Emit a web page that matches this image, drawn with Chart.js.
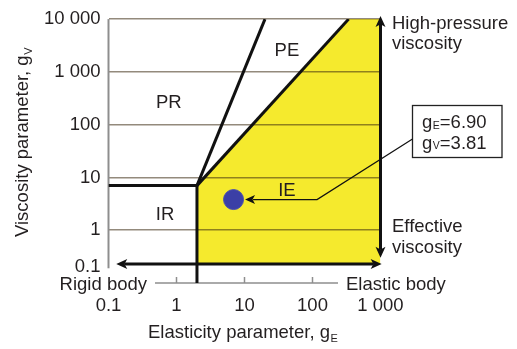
<!DOCTYPE html>
<html>
<head>
<meta charset="utf-8">
<script src="https://cdn.jsdelivr.net/npm/chart.js@4.4.1/dist/chart.umd.min.js"></script>
<style>
  html, body { margin: 0; padding: 0; background: #ffffff; }
  #wrap { width: 517px; height: 349px; }
</style>
</head>
<body>
<div id="wrap"><canvas id="chart" width="517" height="349"></canvas></div>
<script>
// ---- Axes (log–log) ----
const xTickValues = [0.1, 1, 10, 100, 1000];
const xTickLabels = ['0.1', '1', '10', '100', '1 000'];
const yTickValues = [1, 10, 100, 1000, 10000];
const yTickLabels = ['1', '10', '100', '1 000', '10 000'];
const yBottomLabel = '0.1';

// ---- Regime boundaries, as (gE, gV) ----
const irBoundaryE = [0.1, 2, 2];
const irBoundaryV = [7, 7, 0.1];
const prPeBoundaryE = [2, 20];
const prPeBoundaryV = [7, 10000];
const peIeBoundaryE = [2, 340];
const peIeBoundaryV = [7, 10000];
const ieRegionE = [2, 340, 1000];
const ieRegionV = [7, 10000, 10000];

// ---- Direction arrows ----
const arrowLevelV = 0.23;   // gV level of the rigid <-> elastic arrow
const arrowLeftE = 0.13;
const arrowRightE = 1040;
const arrowColumnE = 1000;  // gE of the effective <-> high-pressure arrow
const arrowBottomV = 0.3;
const arrowTopV = 11500;
const yAxisEndV = 0.19;

// ---- Operating point ----
const pointE = [6.90];
const pointV = [3.81];

// ---- Region names and anchors (gE, gV) ----
const regionNames = ['PR', 'PE', 'IR', 'IE'];
const regionE = [0.77, 42, 0.68, 42];
const regionV = [270, 2700, 2.06, 6.0];

const FONT = '"Liberation Sans", Arial, Helvetica, sans-serif';
const FS = 18.5;
const TEXT = '#231f20';
const LINE = '#111111';
const YELLOW = '#f5ea2d';

const zip = (xs, ys) => xs.map((v, i) => ({ x: v, y: ys[i] }));

function boundary(xs, ys) {
  return {
    type: 'line',
    data: zip(xs, ys),
    borderColor: LINE,
    borderWidth: 3,
    borderJoinStyle: 'miter',
    borderCapStyle: 'butt',
    pointRadius: 0,
    fill: false,
    tension: 0
  };
}

function arrowHead(ctx, tx, ty, dx, dy, len, half) {
  const bx = tx - dx * len, by = ty - dy * len;
  const px = -dy, py = dx;
  ctx.beginPath();
  ctx.moveTo(tx, ty);
  ctx.lineTo(bx + px * half, by + py * half);
  ctx.lineTo(tx - dx * len * 0.75, ty - dy * len * 0.75);
  ctx.lineTo(bx - px * half, by - py * half);
  ctx.closePath();
  ctx.fill();
}

function subText(ctx, x, y, main, sub, subSize, drop) {
  ctx.font = FS + 'px ' + FONT;
  ctx.fillText(main, x, y);
  let w = ctx.measureText(main).width + 0.5;
  ctx.font = subSize + 'px ' + FONT;
  ctx.fillText(sub, x + w, y + drop);
  w += ctx.measureText(sub).width;
  ctx.font = FS + 'px ' + FONT;
  return w;
}

const decor = {
  id: 'regimeDecor',
  beforeDatasetsDraw(chart) {
    const { ctx, chartArea: a, scales: { x, y } } = chart;
    ctx.save();
    ctx.strokeStyle = '#8e8e8e';
    // vertical axis line
    ctx.lineWidth = 2;
    ctx.beginPath();
    ctx.moveTo(a.left, a.top);
    ctx.lineTo(a.left, y.getPixelForValue(yAxisEndV));
    ctx.stroke();
    // horizontal axis line between the two end captions, with inside ticks
    const yb = a.bottom;
    ctx.lineWidth = 1.5;
    ctx.beginPath();
    ctx.moveTo(155, yb);
    ctx.lineTo(338, yb);
    xTickValues.forEach(v => {
      const px = x.getPixelForValue(v);
      if (px > 155 && px < 338) {
        ctx.moveTo(px, yb);
        ctx.lineTo(px, yb - 6);
      }
    });
    ctx.stroke();
    ctx.restore();
  },
  afterDatasetsDraw(chart) {
    const { ctx, chartArea: a, scales: { x, y } } = chart;
    ctx.save();
    ctx.fillStyle = LINE;
    ctx.strokeStyle = LINE;

    // rigid <-> elastic arrow
    const ay = y.getPixelForValue(arrowLevelV);
    const ax0 = x.getPixelForValue(arrowLeftE);
    const ax1 = x.getPixelForValue(arrowRightE);
    ctx.lineWidth = 3;
    ctx.beginPath();
    ctx.moveTo(ax0 + 8, ay);
    ctx.lineTo(ax1 - 8, ay);
    ctx.stroke();
    arrowHead(ctx, ax0, ay, -1, 0, 11, 5);
    arrowHead(ctx, ax1, ay, 1, 0, 11, 5);

    // effective <-> high-pressure arrow
    const cx = x.getPixelForValue(arrowColumnE);
    const cy0 = y.getPixelForValue(arrowBottomV);
    const cy1 = y.getPixelForValue(arrowTopV);
    ctx.beginPath();
    ctx.moveTo(cx, cy0 - 8);
    ctx.lineTo(cx, cy1 + 8);
    ctx.stroke();
    arrowHead(ctx, cx, cy0, 0, 1, 11, 5);
    arrowHead(ctx, cx, cy1, 0, -1, 11, 5);

    // texts
    ctx.fillStyle = TEXT;
    ctx.font = FS + 'px ' + FONT;
    ctx.textBaseline = 'alphabetic';

    ctx.textAlign = 'center';
    regionNames.forEach((n, i) => {
      ctx.fillText(n, x.getPixelForValue(regionE[i]), y.getPixelForValue(regionV[i]) + 6.5);
    });

    ctx.textAlign = 'left';
    ctx.fillText('High-pressure', 392, 28.5);
    ctx.fillText('viscosity', 392, 48.5);
    ctx.fillText('Effective', 392, 231.5);
    ctx.fillText('viscosity', 392, 253);
    ctx.fillText('Elastic body', 346, 290);
    ctx.textAlign = 'right';
    ctx.fillText('Rigid body', 147, 290);
    ctx.fillText(yBottomLabel, a.left - 8, ay + 8);

    // axis titles
    ctx.textAlign = 'left';
    subText(ctx, 148, 338, 'Elasticity parameter, g', 'E', 11, 3.5);
    ctx.save();
    ctx.translate(28, 237);
    ctx.rotate(-Math.PI / 2);
    subText(ctx, 0, 0, 'Viscosity parameter, g', 'V', 11, 3.5);
    ctx.restore();

    // callout box
    const bx0 = 412.5, by0 = 105.5, bx1 = 502, by1 = 157.5;
    ctx.fillStyle = '#ffffff';
    ctx.fillRect(bx0, by0, bx1 - bx0, by1 - by0);
    ctx.strokeStyle = '#222222';
    ctx.lineWidth = 1.3;
    ctx.strokeRect(bx0, by0, bx1 - bx0, by1 - by0);
    ctx.fillStyle = TEXT;
    let w = subText(ctx, 422, 128.3, 'g', 'E', 10.5, 0.8);
    ctx.fillText('=' + pointE[0].toFixed(2), 422 + w, 128.3);
    w = subText(ctx, 422, 148.5, 'g', 'V', 10.5, 0.8);
    ctx.fillText('=' + pointV[0].toFixed(2), 422 + w, 148.5);

    // leader from callout to the operating point
    const meta = chart.getDatasetMeta(0).data[0];
    const tipX = meta.x + 11.5, tipY = meta.y;
    const elbowX = tipX + 72;
    ctx.strokeStyle = LINE;
    ctx.fillStyle = LINE;
    ctx.lineWidth = 1.2;
    ctx.beginPath();
    ctx.moveTo(bx0, 139);
    ctx.lineTo(elbowX, tipY);
    ctx.lineTo(tipX + 8, tipY);
    ctx.stroke();
    arrowHead(ctx, tipX, tipY, -1, 0, 10, 4.5);

    ctx.restore();
  }
};

new Chart(document.getElementById('chart'), {
  type: 'scatter',
  data: {
    datasets: [
      {
        type: 'scatter',
        data: zip(pointE, pointV),
        pointRadius: 10,
        pointHoverRadius: 10,
        backgroundColor: '#3b3fa6',
        borderColor: '#4a4fae',
        borderWidth: 1
      },
      boundary(irBoundaryE, irBoundaryV),
      boundary(prPeBoundaryE, prPeBoundaryV),
      boundary(peIeBoundaryE, peIeBoundaryV),
      {
        type: 'line',
        data: zip(ieRegionE, ieRegionV),
        borderWidth: 0,
        borderColor: 'rgba(0,0,0,0)',
        backgroundColor: YELLOW,
        pointRadius: 0,
        tension: 0,
        fill: { value: arrowLevelV }
      }
    ]
  },
  options: {
    responsive: false,
    animation: false,
    events: [],
    layout: { padding: { left: 0, right: 136.5, top: 13.5, bottom: 0 } },
    plugins: {
      legend: { display: false },
      tooltip: { enabled: false },
      filler: { drawTime: 'beforeDraw' }
    },
    scales: {
      x: {
        type: 'logarithmic',
        position: 'bottom',
        min: 0.1,
        max: 1000,
        afterBuildTicks: s => { s.ticks = xTickValues.map(v => ({ value: v })); },
        afterFit: s => { s.height = 66; },
        grid: { display: false, drawTicks: false },
        border: { display: false },
        ticks: {
          autoSkip: false,
          maxRotation: 0,
          padding: 12,
          color: TEXT,
          font: { family: FONT, size: FS },
          callback: v => xTickLabels[xTickValues.indexOf(v)]
        }
      },
      y: {
        type: 'logarithmic',
        position: 'left',
        min: 0.1,
        max: 10000,
        afterBuildTicks: s => { s.ticks = yTickValues.map(v => ({ value: v })); },
        afterFit: s => { s.width = 108.5; },
        grid: { color: 'rgba(58,42,16,0.55)', lineWidth: 1.5, drawTicks: false },
        border: { display: false },
        ticks: {
          autoSkip: false,
          padding: 8,
          color: TEXT,
          font: { family: FONT, size: FS },
          callback: v => yTickLabels[yTickValues.indexOf(v)]
        }
      }
    }
  },
  plugins: [decor]
});
</script>
</body>
</html>
